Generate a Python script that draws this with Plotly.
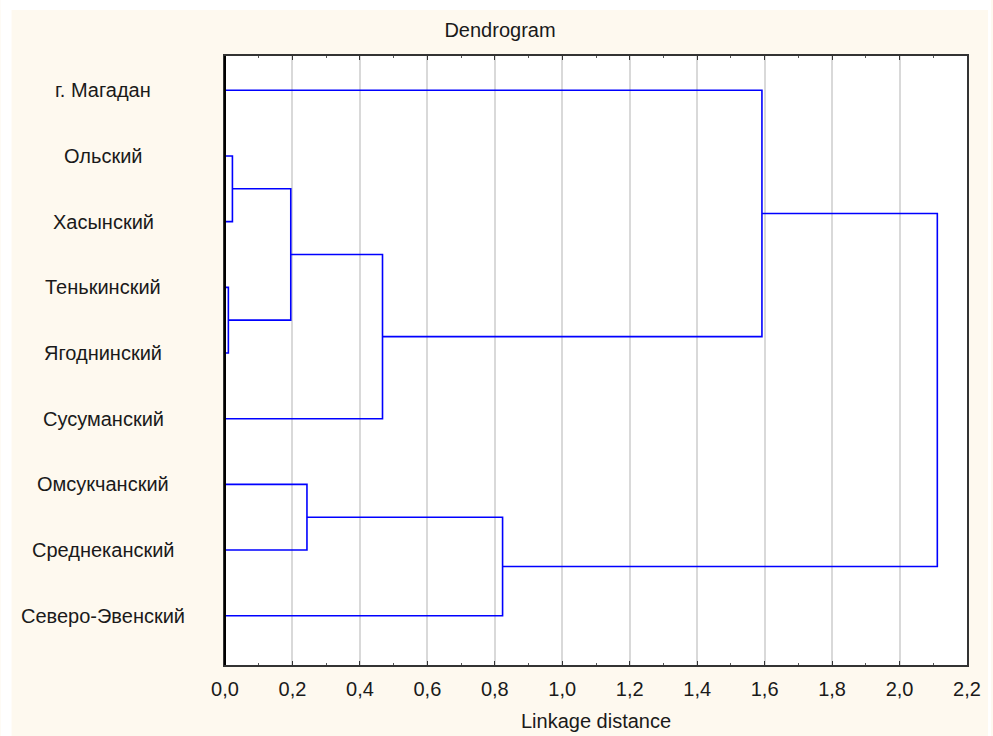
import plotly.graph_objects as go

# Leaves, top to bottom
leaves = ["г. Магадан", "Ольский", "Хасынский", "Тенькинский", "Ягоднинский",
          "Сусуманский", "Омсукчанский", "Среднеканский", "Северо-Эвенский"]

# Merges: (left member, right member, linkage distance); members are leaf names or merge ids
merges = [
    ("Ольский", "Хасынский", 0.022),          # c0
    ("Тенькинский", "Ягоднинский", 0.010),    # c1
    ("c0", "c1", 0.195),                      # c2
    ("c2", "Сусуманский", 0.467),             # c3
    ("Омсукчанский", "Среднеканский", 0.243), # c4
    ("c4", "Северо-Эвенский", 0.823),         # c5
    ("г. Магадан", "c3", 1.592),              # c6
    ("c6", "c5", 2.112),                      # c7
]

x_ticks = [0.0, 0.2, 0.4, 0.6, 0.8, 1.0, 1.2, 1.4, 1.6, 1.8, 2.0, 2.2]
x_tick_text = ["0,0", "0,2", "0,4", "0,6", "0,8", "1,0", "1,2", "1,4", "1,6", "1,8", "2,0", "2,2"]

pos = {name: (i + 1, 0.0) for i, name in enumerate(leaves)}
xs, ys = [], []
for k, (a, b, h) in enumerate(merges):
    ya, ha = pos[a]
    yb, hb = pos[b]
    xs += [ha, h, h, hb, None]
    ys += [ya, ya, yb, yb, None]
    pos[f"c{k}"] = ((ya + yb) / 2, h)

FONT = "Liberation Sans, Arial, sans-serif"
TXT = "#1a1a1a"
CREAM = "#fef9ef"
FS = 20

fig = go.Figure()
fig.add_trace(go.Scatter(x=xs, y=ys, mode="lines",
                         line=dict(color="#0000ff", width=1.6),
                         hoverinfo="skip", showlegend=False))

W, H = 993, 736
L, R, T, B = 225, 24, 56, 71
pw, ph = W - L - R, H - T - B

def px2paper_x(px):
    return (px - L) / pw

def px2paper_y(py):
    return (H - B - py) / ph

annotations = []
for i, name in enumerate(leaves):
    annotations.append(dict(x=px2paper_x(103), xref="paper", y=i + 1, yref="y",
                            text=name, showarrow=False, xanchor="center", yanchor="middle",
                            font=dict(family=FONT, size=FS, color=TXT)))
annotations.append(dict(x=px2paper_x(597), xref="paper", y=px2paper_y(721), yref="paper",
                        text="Linkage distance", showarrow=False, xanchor="center",
                        yanchor="middle", font=dict(family=FONT, size=FS, color=TXT)))

shapes = [
    dict(type="rect", xref="paper", yref="paper", layer="below",
         x0=px2paper_x(0), x1=px2paper_x(11), y0=px2paper_y(H), y1=px2paper_y(0),
         fillcolor="white", line=dict(width=0)),
    dict(type="rect", xref="paper", yref="paper", layer="below",
         x0=px2paper_x(0), x1=px2paper_x(W), y0=px2paper_y(10), y1=px2paper_y(0),
         fillcolor="white", line=dict(width=0)),
    dict(type="rect", xref="paper", yref="paper", layer="below",
         x0=px2paper_x(990), x1=px2paper_x(W), y0=px2paper_y(H), y1=px2paper_y(0),
         fillcolor="white", line=dict(width=0)),
]

fig.update_layout(
    width=W, height=H,
    margin=dict(l=L, r=R, t=T, b=B),
    paper_bgcolor=CREAM, plot_bgcolor="white",
    title=dict(text="Dendrogram", x=500 / W, xref="container", xanchor="center",
               y=1 - 30 / H, yanchor="middle", yref="container",
               font=dict(family=FONT, size=FS, color=TXT)),
    xaxis=dict(range=[0, 2.2], tickvals=x_ticks, ticktext=x_tick_text,
               showgrid=True, gridcolor="#d9d9d9", gridwidth=1.5,
               zeroline=False, showline=True, linecolor="#333333", linewidth=1.5,
               mirror="ticks", ticks="inside", ticklen=4, tickcolor="#333333",
               minor=dict(dtick=0.1, ticks="inside", ticklen=2, tickcolor="#555555", showgrid=False),
               tickfont=dict(family=FONT, size=FS, color=TXT),
               ticklabelstandoff=5),
    yaxis=dict(range=[9.75, 0.478], showticklabels=False, showgrid=False, zeroline=False,
               showline=True, linecolor="#333333", linewidth=1.5, mirror=True, ticks=""),
    annotations=annotations,
    shapes=shapes,
)
# left axis line darker
fig.add_shape(type="line", xref="x domain", yref="y domain", x0=0, x1=0, y0=0, y1=1,
              line=dict(color="black", width=2), layer="above")

fig.write_html("out.html")
